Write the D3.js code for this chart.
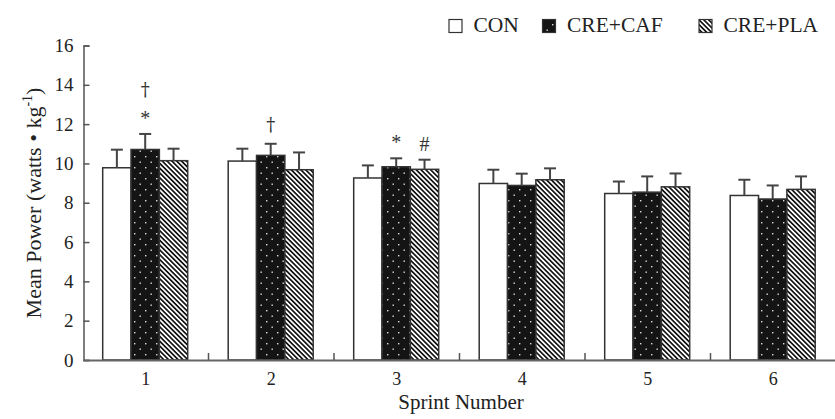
<!DOCTYPE html>
<html>
<head>
<meta charset="utf-8">
<script src="https://cdn.jsdelivr.net/npm/d3@7"></script>
<style>
  body { margin: 0; background: #fff; }
  svg text { font-family: "Liberation Serif", "Times New Roman", serif; fill: #222; }
</style>
</head>
<body>
<div id="chart"></div>
<script>
// data
const sprints = ['1', '2', '3', '4', '5', '6'];
const groups = ['CON', 'CRE+CAF', 'CRE+PLA'];
const conMean = [9.78, 10.12, 9.26, 8.98, 8.47, 8.37];
const conSd = [0.92, 0.63, 0.64, 0.70, 0.61, 0.80];
const cafMean = [10.71, 10.41, 9.83, 8.88, 8.54, 8.19];
const cafSd = [0.79, 0.59, 0.43, 0.60, 0.80, 0.69];
const plaMean = [10.14, 9.68, 9.70, 9.17, 8.81, 8.68];
const plaSd = [0.61, 0.88, 0.49, 0.58, 0.68, 0.66];
const yTicks = [0, 2, 4, 6, 8, 10, 12, 14, 16];
// significance marks: sprint, group, symbols stacked from bottom up
const marks = [
  { sprint: '1', group: 'CRE+CAF', symbols: ['*', '†'] },
  { sprint: '2', group: 'CRE+CAF', symbols: ['†'] },
  { sprint: '3', group: 'CRE+CAF', symbols: ['*'] },
  { sprint: '3', group: 'CRE+PLA', symbols: ['#'] },
];

const W = 835, H = 419;
const means = { 'CON': conMean, 'CRE+CAF': cafMean, 'CRE+PLA': plaMean };
const sds = { 'CON': conSd, 'CRE+CAF': cafSd, 'CRE+PLA': plaSd };
const rows = [];
sprints.forEach((s, i) => {
  groups.forEach((g) => {
    rows.push({ sprint: s, group: g, mean: means[g][i], sd: sds[g][i] });
  });
});

const svg = d3.select('#chart').append('svg')
  .attr('width', W).attr('height', H);

const defs = svg.append('defs');
// dotted black fill
const dots = defs.append('pattern')
  .attr('id', 'dots').attr('patternUnits', 'userSpaceOnUse')
  .attr('width', 11).attr('height', 11);
dots.append('rect').attr('width', 11).attr('height', 11).attr('fill', '#141414');
dots.append('rect').attr('x', 2).attr('y', 2).attr('width', 1.4).attr('height', 1.4).attr('fill', '#ddd');
dots.append('rect').attr('x', 7.5).attr('y', 7.5).attr('width', 1.4).attr('height', 1.4).attr('fill', '#ddd');
// diagonal stripes
const stripes = defs.append('pattern')
  .attr('id', 'stripes').attr('patternUnits', 'userSpaceOnUse')
  .attr('width', 3.4).attr('height', 3.4)
  .attr('patternTransform', 'rotate(-45)');
stripes.append('rect').attr('width', 3.4).attr('height', 3.4).attr('fill', '#fff');
stripes.append('rect').attr('width', 1.7).attr('height', 3.4).attr('fill', '#141414');

const fills = { 'CON': '#fff', 'CRE+CAF': 'url(#dots)', 'CRE+PLA': 'url(#stripes)' };

const x = d3.scaleBand().domain(sprints).range([83, 836]);
const xg = d3.scaleBand().domain(groups).range([19.7, 104.7]);
const y = d3.scaleLinear().domain([0, 16]).range([360, 45.5]);

// bars
svg.append('g')
  .selectAll('rect')
  .data(rows)
  .join('rect')
  .attr('x', (d) => x(d.sprint) + xg(d.group))
  .attr('y', (d) => y(d.mean))
  .attr('width', xg.bandwidth())
  .attr('height', (d) => y(0) - y(d.mean))
  .attr('fill', (d) => fills[d.group])
  .attr('stroke', '#333')
  .attr('stroke-width', 1.5);

// error bars (upper only)
const err = svg.append('g').attr('stroke', '#444').attr('stroke-width', 2);
rows.forEach((d) => {
  const cx = x(d.sprint) + xg(d.group) + xg.bandwidth() / 2;
  err.append('line')
    .attr('x1', cx).attr('x2', cx)
    .attr('y1', y(d.mean)).attr('y2', y(d.mean + d.sd));
  err.append('line')
    .attr('x1', cx - 6).attr('x2', cx + 6)
    .attr('y1', y(d.mean + d.sd)).attr('y2', y(d.mean + d.sd));
});

// significance symbols
marks.forEach((m) => {
  const r = rows.find((d) => d.sprint === m.sprint && d.group === m.group);
  const cx = x(m.sprint) + xg(m.group) + xg.bandwidth() / 2;
  m.symbols.forEach((s, k) => {
    const isDagger = s === '†';
    svg.append('text')
      .attr('x', cx)
      .attr('y', y(r.mean + r.sd) - (isDagger ? 13 : 9) - k * 25)
      .attr('text-anchor', 'middle')
      .attr('font-size', isDagger ? 18 : 20)
      .style('font-family', isDagger ? '"DejaVu Serif", serif' : null)
      .style('fill', '#333')
      .text(s);
  });
});

// y axis
const yAxis = svg.append('g')
  .attr('transform', 'translate(83.5,0)')
  .call(d3.axisLeft(y).tickValues(yTicks).tickSize(-6).tickPadding(10));
yAxis.select('.domain').attr('stroke', '#555').attr('stroke-width', 1.5);
yAxis.selectAll('.tick line').attr('stroke', '#555').attr('stroke-width', 1.5);
yAxis.selectAll('text').attr('font-size', 19).attr('fill', '#222');

// x axis
const xAxis = svg.append('g')
  .attr('transform', 'translate(0,360)')
  .call(d3.axisBottom(x).tickSize(0).tickPadding(12));
xAxis.select('.domain').attr('stroke', '#666').attr('stroke-width', 2);
xAxis.selectAll('text').attr('font-size', 18).attr('fill', '#222');
xAxis.selectAll('.bound')
  .data(sprints)
  .join('line')
  .attr('class', 'bound')
  .attr('x1', (s) => x(s) + x.bandwidth())
  .attr('x2', (s) => x(s) + x.bandwidth())
  .attr('y1', 0).attr('y2', -7)
  .attr('stroke', '#555').attr('stroke-width', 1.5);

// axis titles
svg.append('text')
  .attr('x', 461).attr('y', 408.5)
  .attr('text-anchor', 'middle')
  .attr('font-size', 21)
  .text('Sprint Number');

const yl = svg.append('text')
  .attr('transform', 'translate(41,203) rotate(-90)')
  .attr('text-anchor', 'middle')
  .attr('font-size', 22);
yl.append('tspan').text('Mean Power (watts • kg');
yl.append('tspan').attr('font-size', 14).attr('dy', -9).text('-1');
yl.append('tspan').attr('dy', 9).text(')');

// legend
const legendX = [449, 542.5, 699];
const legend = svg.append('g');
groups.forEach((g, i) => {
  legend.append('rect')
    .attr('x', legendX[i]).attr('y', 19.5)
    .attr('width', 13).attr('height', 13)
    .attr('fill', fills[g])
    .attr('stroke', '#333').attr('stroke-width', 1.2);
  legend.append('text')
    .attr('x', legendX[i] + 24.5).attr('y', 32)
    .attr('font-size', 21.5)
    .text(g);
});
</script>
</body>
</html>
